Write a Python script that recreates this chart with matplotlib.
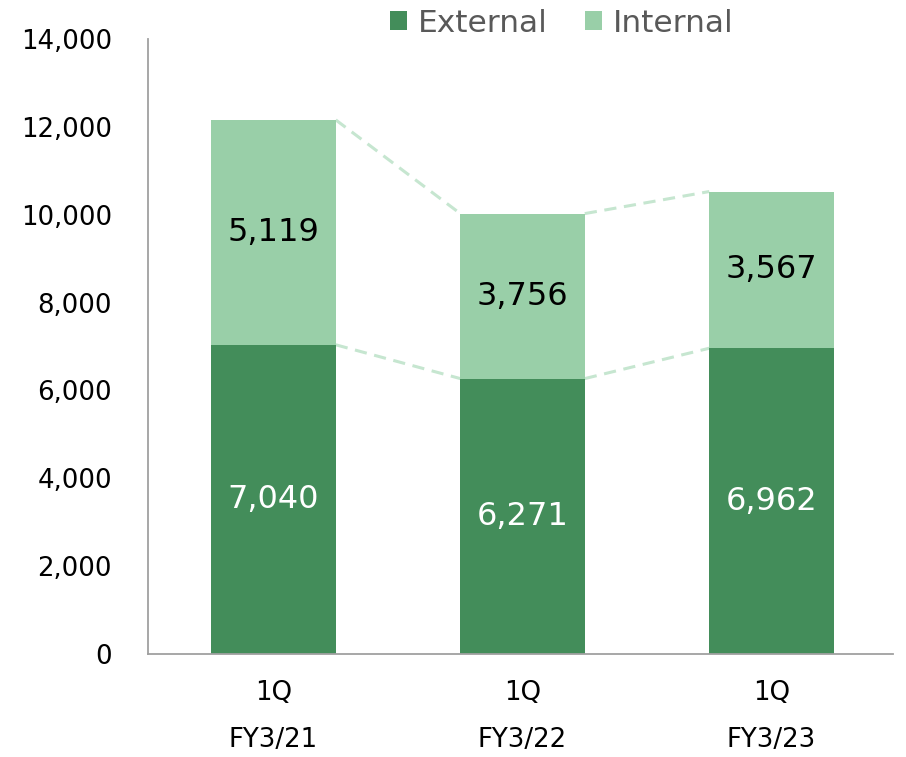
import numpy as np
import matplotlib.pyplot as plt

# data
categories = ["1Q\nFY3/21", "1Q\nFY3/22", "1Q\nFY3/23"]
external = [7040, 6271, 6962]
internal = [5119, 3756, 3567]

dark_green = "#438d5a"
light_green = "#99cfa8"
dash_color = "#c6e6d0"

fig = plt.figure(figsize=(9.06, 7.57), dpi=100)
ax = fig.add_axes([0.1634, 0.136, 0.8223, 0.8124])

x = np.arange(len(categories))
width = 0.5
ext = np.array(external)
tot = ext + np.array(internal)

ax.bar(x, external, width, color=dark_green, label="External", zorder=2)
ax.bar(x, internal, width, bottom=external, color=light_green,
       label="Internal", zorder=2)

# dashed connectors between bar edges
for i in range(len(x) - 1):
    for level in (ext, tot):
        ax.plot([x[i] + width / 2, x[i + 1] - width / 2],
                [level[i], level[i + 1]], ls=(0, (4, 2.5)), lw=2.2,
                color=dash_color, zorder=1)

# value labels
for i in range(len(x)):
    ax.text(x[i], external[i] / 2, f"{external[i]:,}", ha="center",
            va="center", fontsize=23, color="white")
    ax.text(x[i], external[i] + internal[i] / 2, f"{internal[i]:,}",
            ha="center", va="center", fontsize=23, color="black")

ax.set_xlim(-0.504, 2.488)
ax.set_ylim(0, 14000)
ax.set_yticks(np.arange(0, 14001, 2000))
ax.set_yticklabels([f"{v:,}" for v in range(0, 14001, 2000)])
ax.set_xticks(x)
ax.set_xticklabels(categories, linespacing=2.05)
ax.tick_params(axis="both", length=0, labelsize=18.7, colors="black")
ax.tick_params(axis="x", pad=19)
ax.tick_params(axis="y", pad=26)
for t in ax.get_yticklabels():
    t.set_horizontalalignment("right")

for s in ("top", "right"):
    ax.spines[s].set_visible(False)
for s in ("left", "bottom"):
    ax.spines[s].set_color("#a0a0a0")
    ax.spines[s].set_linewidth(1.3)

ax.legend(loc="center", bbox_to_anchor=(0.62, 0.969),
          bbox_transform=fig.transFigure, ncol=2, frameon=False,
          fontsize=22.5, handlelength=0.55, handleheight=0.55,
          handletextpad=0.35, columnspacing=1.2, labelcolor="#595959")

plt.savefig("out.png", dpi=100)
plt.close()
